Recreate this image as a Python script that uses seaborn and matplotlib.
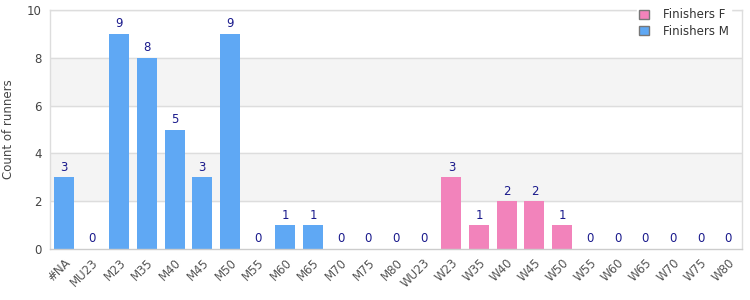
import pandas as pd
import matplotlib
matplotlib.use("Agg")
import matplotlib.pyplot as plt
import seaborn as sns
from matplotlib.patches import Patch

categories = ["#NA", "MU23", "M23", "M35", "M40", "M45", "M50", "M55", "M60", "M65",
              "M70", "M75", "M80", "WU23", "W23", "W35", "W40", "W45", "W50", "W55",
              "W60", "W65", "W70", "W75", "W80"]
counts = [3, 0, 9, 8, 5, 3, 9, 0, 1, 1, 0, 0, 0, 0, 3, 1, 2, 2, 1, 0, 0, 0, 0, 0, 0]
groups = ["Finishers M"] * 14 + ["Finishers F"] * 11

BLUE = "#5fa8f4"
PINK = "#f283bb"
LABEL = "#1a1a8c"

df = pd.DataFrame({"cat": categories, "count": counts, "group": groups})

sns.set_style("white")
plt.rcParams["font.family"] = ["DejaVu Sans"]

fig = plt.figure(figsize=(7.5, 3), dpi=100)
ax = fig.add_axes([50 / 750, 51 / 300, 692 / 750, 239 / 300])

# alternating bands
for lo in (2, 6):
    ax.axhspan(lo, lo + 2, color="#f4f4f4", zorder=0)
for y in (2, 4, 6, 8, 10):
    ax.axhline(y, color="#dddddd", lw=1, zorder=0.5)

sns.barplot(data=df, x="cat", y="count", hue="group", dodge=False,
            palette={"Finishers M": BLUE, "Finishers F": PINK},
            order=categories, width=0.72, saturation=1, ax=ax, legend=False,
            linewidth=0, edgecolor="none", zorder=2)

for i, v in enumerate(counts):
    ax.text(i, v + 0.15, str(v), ha="center", va="bottom", fontsize=8.5, color=LABEL)

ax.set_ylim(0, 10)
ax.set_xlim(-0.5, len(categories) - 0.5)
ax.set_yticks([0, 2, 4, 6, 8, 10])
ax.set_xlabel("")
ax.set_ylabel("Count of runners", fontsize=8.5, color="#444444")
ax.yaxis.set_label_coords(-35 / 692, 0.5)
ax.tick_params(axis="y", length=0, labelsize=8.5, labelcolor="#444444", pad=6)
ax.tick_params(axis="x", length=0, labelsize=8.5, labelcolor="#555555", pad=5)
plt.setp(ax.get_xticklabels(), rotation=45, ha="right", rotation_mode="anchor")

for s in ax.spines.values():
    s.set_color("#dddddd")
    s.set_linewidth(1)
ax.spines["bottom"].set_color("#cccccc")

handles = [Patch(facecolor=PINK, edgecolor="#777777", label="Finishers F"),
           Patch(facecolor=BLUE, edgecolor="#777777", label="Finishers M")]
leg = ax.legend(handles=handles, loc="upper right", bbox_to_anchor=(737 / 750, 1.0),
                bbox_transform=fig.transFigure, frameon=True, fontsize=8.5,
                handlelength=0.8, handleheight=0.8, handletextpad=1.2,
                borderpad=0.2, labelspacing=0.3, fancybox=False)
leg.get_frame().set_edgecolor("white")
leg.get_frame().set_facecolor("white")
leg.get_frame().set_alpha(1)
for t in leg.get_texts():
    t.set_color("#333333")

fig.savefig("out.png", dpi=100)
